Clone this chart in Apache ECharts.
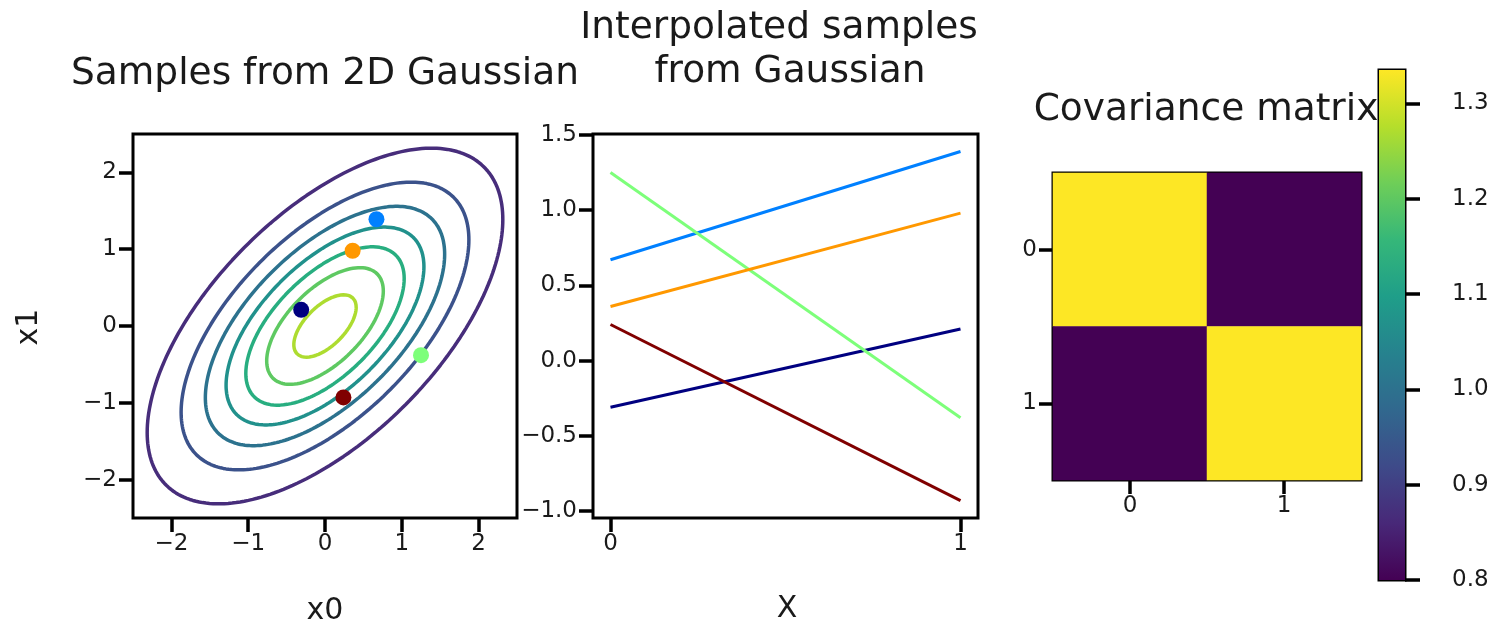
<!DOCTYPE html>
<html>
<head>
<meta charset="utf-8">
<script src="https://cdn.jsdelivr.net/npm/echarts@6/dist/echarts.min.js"></script>
<style>
  html, body { margin: 0; padding: 0; background: #fff; }
  #chart { width: 1493px; height: 625px; }
</style>
</head>
<body>
<div id="chart"></div>
<script>
// ---- data ----
const covariance = [[1.335, 0.8], [0.8, 1.335]];
const gaussMean = [0, 0];
const contourLevels = [0.02, 0.04, 0.06, 0.08, 0.10, 0.12, 0.14];
// each sample is a point (x0, x1)
const samples = [[-0.31, 0.21], [0.67, 1.39], [1.25, -0.38], [0.36, 0.98], [0.24, -0.93]];
const interpX = [0, 1];
const gaussTicks = [-2, -1, 0, 1, 2];
const interpYTicks = [-1.0, -0.5, 0.0, 0.5, 1.0, 1.5];
const colorbarTicks = [0.8, 0.9, 1.0, 1.1, 1.2, 1.3];
const matrixLabels = ['0', '1'];

// ---- styles ----
const viridis = ['#440154', '#482878', '#3e4a89', '#31688e', '#26828e',
                 '#1f9e89', '#35b779', '#6ece58', '#b5de2b', '#fde725'];
const contourColors = ['#472d7b', '#3b528b', '#2c728e', '#21918c', '#28ae80', '#5ec962', '#addc30'];
const sampleColors = ['#000080', '#0080ff', '#7dff7a', '#ff9800', '#800000'];
const FONT = 'DejaVu Sans';
const TXT = '#1a1a1a';
const TICK_FS = 23;

const fmt = v => {
  const s = Math.abs(v) < 1e-9 ? '0' : String(Math.abs(v));
  return (v < -1e-9 ? '\u2212' : '') + s;
};
const fmt1 = v => (v < -1e-9 ? '\u2212' : '') + Math.abs(v).toFixed(1);

// ---- Gaussian density contours (ellipses of constant density) ----
const det = covariance[0][0] * covariance[1][1] - covariance[0][1] * covariance[1][0];
const pMax = 1 / (2 * Math.PI * Math.sqrt(det));
const l00 = Math.sqrt(covariance[0][0]);
const l10 = covariance[1][0] / l00;
const l11 = Math.sqrt(covariance[1][1] - l10 * l10);
function contourPath(level) {
  const r = Math.sqrt(2 * Math.log(pMax / level));
  const pts = [];
  const n = 240;
  for (let k = 0; k <= n; k++) {
    const t = 2 * Math.PI * k / n;
    const u = r * Math.cos(t), w = r * Math.sin(t);
    pts.push([gaussMean[0] + l00 * u, gaussMean[1] + l10 * u + l11 * w]);
  }
  return pts;
}

// y-range of the interpolation panel with 5% margins
const allVals = samples.flat();
const vMin = Math.min(...allVals), vMax = Math.max(...allVals);
const vPad = (vMax - vMin) * 0.05;

// covariance range for the colour scale
const covFlat = covariance.flat();
const cMin = Math.min(...covFlat), cMax = Math.max(...covFlat);

const heatData = [];
covariance.forEach((row, i) => row.forEach((v, j) => heatData.push([j, i, v])));

// ---- shared axis styles ----
const tickStyle = (len) => ({ show: true, length: len, lineStyle: { color: '#000', width: 3.5 } });
const labelStyle = (margin) => ({ color: TXT, fontSize: TICK_FS, fontFamily: FONT, margin: margin });
const noLine = { show: false, onZero: false };
const gridBox = { show: true, borderColor: '#000', borderWidth: 3, backgroundColor: 'transparent' };

const series = [];
contourLevels.forEach((lv, i) => {
  series.push({
    type: 'line', xAxisIndex: 0, yAxisIndex: 0, data: contourPath(lv),
    showSymbol: false, symbol: 'none', smooth: false,
    lineStyle: { color: contourColors[i], width: 3.5 }, z: 2, silent: true
  });
});
series.push({
  type: 'scatter', xAxisIndex: 0, yAxisIndex: 0, symbolSize: 16,
  data: samples.map((s, i) => ({ value: s, itemStyle: { color: sampleColors[i], opacity: 1 } })),
  z: 5
});
samples.forEach((s, i) => {
  series.push({
    type: 'line', xAxisIndex: 1, yAxisIndex: 1,
    data: interpX.map((x, k) => [x, s[k]]),
    showSymbol: false, symbol: 'none',
    lineStyle: { color: sampleColors[i], width: 3 }, z: 3
  });
});
const heatIndex = series.length;
series.push({
  type: 'heatmap', xAxisIndex: 2, yAxisIndex: 2, data: heatData,
  itemStyle: { borderWidth: 0 }
});
// colour bar body
series.push({
  type: 'custom', xAxisIndex: 3, yAxisIndex: 3, data: [[0, cMin]],
  renderItem: function (params, api) {
    const p0 = api.coord([0, cMin]);
    const p1 = api.coord([1, cMax]);
    return {
      type: 'rect',
      shape: { x: p0[0], y: p1[1], width: p1[0] - p0[0], height: p0[1] - p1[1] },
      style: {
        fill: {
          type: 'linear', x: 0, y: 1, x2: 0, y2: 0,
          colorStops: viridis.map((c, k) => ({ offset: k / (viridis.length - 1), color: c }))
        }
      }
    };
  }
});

const option = {
  animation: false,
  backgroundColor: '#fff',
  grid: [
    Object.assign({ left: 133, top: 134, width: 384, height: 384 }, gridBox),
    Object.assign({ left: 593, top: 134, width: 385, height: 384 }, gridBox),
    Object.assign({ left: 1053, top: 173, width: 308, height: 307 }, gridBox),
    Object.assign({ left: 1379, top: 70, width: 26, height: 510 }, gridBox)
  ],
  xAxis: [
    { type: 'value', gridIndex: 0, min: -2.5, max: 2.5, splitLine: { show: false },
      axisLine: noLine,
      axisTick: Object.assign(tickStyle(14), { customValues: gaussTicks }),
      axisLabel: Object.assign(labelStyle(15), { customValues: gaussTicks, formatter: fmt }) },
    { type: 'value', gridIndex: 1, min: -0.05, max: 1.05, splitLine: { show: false },
      axisLine: noLine,
      axisTick: Object.assign(tickStyle(14), { customValues: interpX }),
      axisLabel: Object.assign(labelStyle(15), { customValues: interpX, formatter: fmt }) },
    { type: 'category', gridIndex: 2, data: matrixLabels, splitLine: { show: false },
      axisLine: noLine,
      axisTick: Object.assign(tickStyle(14), { alignWithLabel: true }),
      axisLabel: labelStyle(15) },
    { type: 'value', gridIndex: 3, min: 0, max: 1, show: false }
  ],
  yAxis: [
    { type: 'value', gridIndex: 0, min: -2.5, max: 2.5, splitLine: { show: false },
      axisLine: noLine,
      axisTick: Object.assign(tickStyle(14), { customValues: gaussTicks }),
      axisLabel: Object.assign(labelStyle(16), { customValues: gaussTicks, formatter: fmt }) },
    { type: 'value', gridIndex: 1, min: vMin - vPad, max: vMax + vPad, splitLine: { show: false },
      axisLine: noLine,
      axisTick: Object.assign(tickStyle(14), { customValues: interpYTicks }),
      axisLabel: Object.assign(labelStyle(16), { customValues: interpYTicks, formatter: fmt1 }) },
    { type: 'category', gridIndex: 2, data: matrixLabels, inverse: true, splitLine: { show: false },
      axisLine: noLine,
      axisTick: Object.assign(tickStyle(14), { alignWithLabel: true }),
      axisLabel: labelStyle(16) },
    { type: 'value', gridIndex: 3, position: 'right', min: cMin, max: cMax, splitLine: { show: false },
      axisLine: noLine,
      axisTick: Object.assign(tickStyle(15), { customValues: colorbarTicks }),
      axisLabel: Object.assign(labelStyle(47), { customValues: colorbarTicks, formatter: v => v.toFixed(1) }) }
  ],
  visualMap: [{
    show: false, seriesIndex: heatIndex, min: cMin, max: cMax, dimension: 2,
    inRange: { color: viridis }
  }],
  graphic: [
    { type: 'text', x: 325, y: 74, style: { text: 'Samples from 2D Gaussian', fill: TXT, font: '37.5px "' + FONT + '"', align: 'center', verticalAlign: 'middle' } },
    { type: 'text', x: 779, y: 28, style: { text: 'Interpolated samples', fill: TXT, font: '37.5px "' + FONT + '"', align: 'center', verticalAlign: 'middle' } },
    { type: 'text', x: 790, y: 72, style: { text: 'from Gaussian', fill: TXT, font: '37.5px "' + FONT + '"', align: 'center', verticalAlign: 'middle' } },
    { type: 'text', x: 1206, y: 110, style: { text: 'Covariance matrix', fill: TXT, font: '37.5px "' + FONT + '"', align: 'center', verticalAlign: 'middle' } },
    { type: 'text', x: 325, y: 611, style: { text: 'x0', fill: TXT, font: '30px "' + FONT + '"', align: 'center', verticalAlign: 'middle' } },
    { type: 'text', x: 787, y: 609, style: { text: 'X', fill: TXT, font: '30px "' + FONT + '"', align: 'center', verticalAlign: 'middle' } },
    { type: 'text', x: 29, y: 327, rotation: Math.PI / 2, style: { text: 'x1', fill: TXT, font: '30px "' + FONT + '"', align: 'center', verticalAlign: 'middle' } }
  ],
  series: series
};

const chart = echarts.init(document.getElementById('chart'));
chart.setOption(option);
</script>
</body>
</html>
